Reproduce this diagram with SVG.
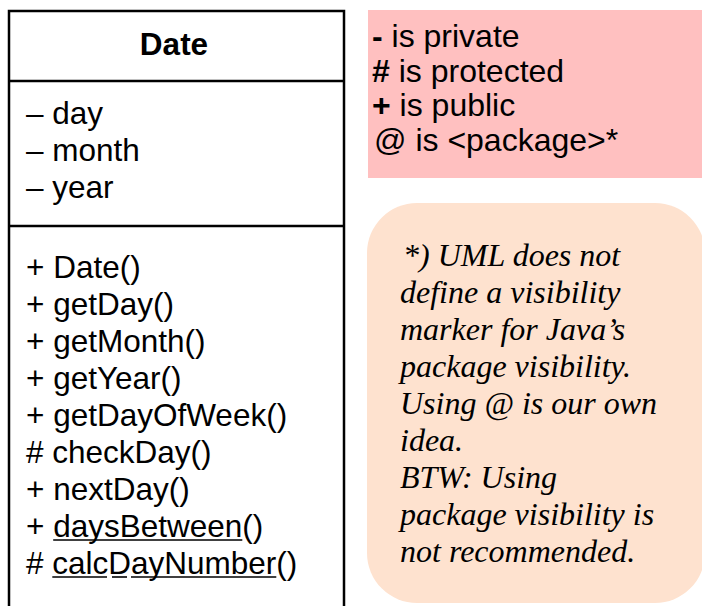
<svg xmlns="http://www.w3.org/2000/svg" width="702" height="606" viewBox="0 0 702 606">
<style>
.sans{font-family:"Liberation Sans",Arial,sans-serif;fill:#000}
.cls{font-size:31.5px}
.title{font-size:31.5px;font-weight:bold}
.leg{font-size:32px}
.b{font-weight:bold}
.note{font-family:"Liberation Serif","Times New Roman",serif;font-style:italic;font-size:32px;fill:#000}
.frame{fill:#fff;stroke:#000;stroke-width:2.5}
.sep{stroke:#000;stroke-width:2.5}
.ul{stroke:#000;stroke-width:1.6}
</style>
<rect width="702" height="606" fill="#fff"/>
<g id="class-date">
  <rect class="frame" x="9" y="11" width="335" height="640"/>
  <line class="sep" x1="9" y1="81" x2="344" y2="81"/>
  <line class="sep" x1="9" y1="226" x2="344" y2="226"/>
  <text class="sans title" x="174" y="55" text-anchor="middle">Date</text>
  <text class="sans cls" x="26" y="124">– day</text>
  <text class="sans cls" x="26" y="161">– month</text>
  <text class="sans cls" x="26" y="198">– year</text>
  <text class="sans cls" x="26" y="278">+ Date()</text>
  <text class="sans cls" x="26" y="315">+ getDay()</text>
  <text class="sans cls" x="26" y="352">+ getMonth()</text>
  <text class="sans cls" x="26" y="389">+ getYear()</text>
  <text class="sans cls" x="26" y="426">+ getDayOfWeek()</text>
  <text class="sans cls" x="26" y="463"># checkDay()</text>
  <text class="sans cls" x="26" y="500">+ nextDay()</text>
  <text class="sans cls" x="26" y="537">+ daysBetween()</text>
  <text class="sans cls" x="26" y="574"># calcDayNumber()</text>
  <line class="ul" x1="53.2" y1="540" x2="242.3" y2="540"/>
  <line class="ul" x1="52.3" y1="577" x2="107" y2="577"/>
  <line class="ul" x1="112" y1="577" x2="127" y2="577"/>
  <line class="ul" x1="131" y1="577" x2="276.3" y2="577"/>
</g>
<g id="legend">
  <rect x="368" y="10" width="340" height="168" fill="#FFC0C0"/>
  <text class="sans leg" x="372" y="47"><tspan class="b">-</tspan> is private</text>
  <text class="sans leg" x="372" y="82"><tspan class="b">#</tspan> is protected</text>
  <text class="sans leg" x="372" y="116"><tspan class="b">+</tspan> is public</text>
  <text class="sans leg" x="374" y="151">@ is &lt;package&gt;*</text>
</g>
<g id="note">
  <rect x="367" y="203" width="338" height="400" rx="50" ry="50" fill="#FEE2CF"/>
  <text class="note" x="403" y="266">*) UML does not</text>
  <text class="note" x="400" y="303">define a visibility</text>
  <text class="note" x="400" y="340">marker for Java’s</text>
  <text class="note" x="400" y="377">package visibility.</text>
  <text class="note" x="400" y="414">Using @ is our own</text>
  <text class="note" x="400" y="451">idea.</text>
  <text class="note" x="400" y="488">BTW: Using</text>
  <text class="note" x="400" y="525">package visibility is</text>
  <text class="note" x="400" y="562">not recommended.</text>
</g>
<g id="connectors"></g>
</svg>
